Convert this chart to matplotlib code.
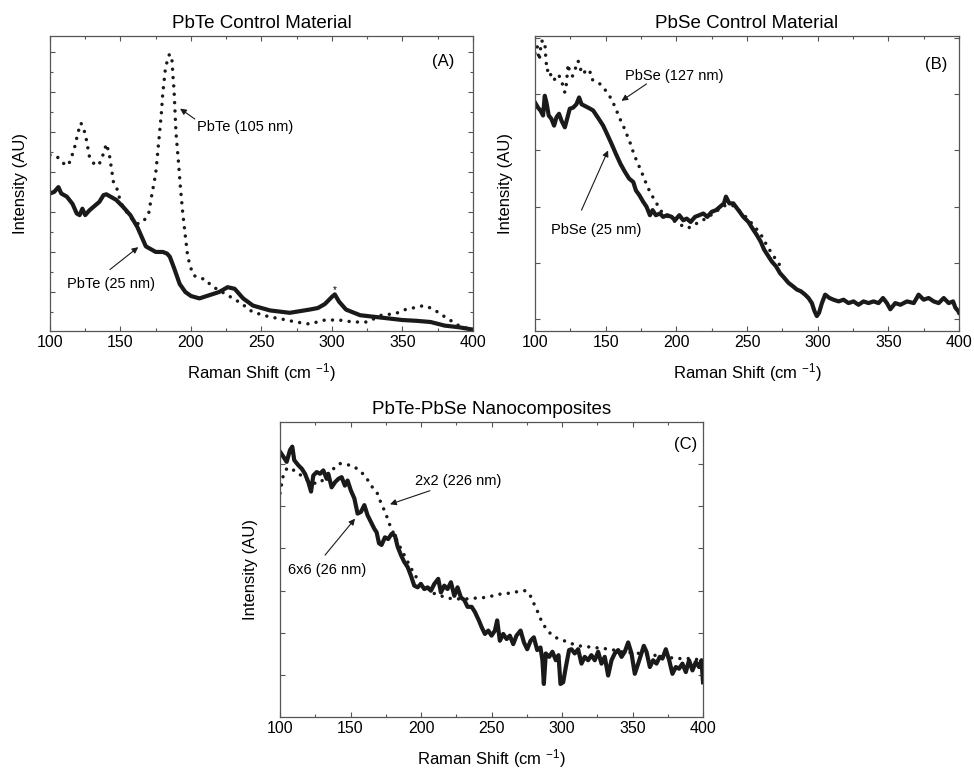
import matplotlib
matplotlib.use("Agg")
import matplotlib.pyplot as plt
from matplotlib.ticker import MultipleLocator

plt.rcParams['font.family'] = ['Liberation Sans', 'DejaVu Sans']
plt.rcParams['mathtext.default'] = 'regular'

# (A) PbTe control material
a_dot_x = [100, 105, 110, 113, 117, 120, 122, 125, 128, 132, 135, 138, 140, 142, 145, 148, 150, 155, 160, 163,
           167, 170, 172, 175, 177, 179, 180, 182, 184.5, 186.3, 187.1, 188, 189.4, 191.1, 192.5, 194.2, 195.8,
           197.7, 200.1, 201.7, 205, 210.6, 214.2, 220, 226, 235.5, 243.7, 255.5, 265, 274.4, 284, 295, 305,
           315, 325, 335, 345, 352, 360, 365, 370, 375, 380, 390, 400]
a_dot_y = [1.71, 1.69, 1.60, 1.58, 1.77, 2.00, 2.11, 1.98, 1.69, 1.58, 1.60, 1.73, 1.85, 1.73, 1.375, 1.27, 1.12,
           0.98, 0.87, 0.85, 0.90, 0.98, 1.19, 1.48, 1.85, 2.23, 2.48, 2.81, 2.96, 2.96, 2.73, 2.52, 1.98, 1.63,
           1.31, 0.98, 0.73, 0.44, 0.29, 0.21, 0.18, 0.155, 0.08, 0.02, -0.04, -0.14, -0.25, -0.31, -0.34,
           -0.375, -0.40, -0.35, -0.35, -0.375, -0.375, -0.29, -0.27, -0.22, -0.19, -0.17, -0.20, -0.25,
           -0.31, -0.42, -0.48]
a_sol_x = [100, 103, 106, 108, 112, 116, 119, 121, 123, 125, 128, 132, 135, 138, 140, 143, 147, 152, 157, 162,
           165, 168, 171, 175, 180, 183, 185, 188, 192, 196, 200, 206, 213, 220, 226, 231, 237, 244, 256, 270,
           284, 290, 295, 300, 302, 305, 310, 320, 330, 340, 350, 360, 370, 380, 390, 400]
a_sol_y = [1.23, 1.25, 1.31, 1.23, 1.19, 1.10, 0.98, 0.96, 1.04, 0.96, 1.02, 1.08, 1.125, 1.21, 1.22, 1.19, 1.15,
           1.06, 0.96, 0.81, 0.69, 0.57, 0.54, 0.50, 0.50, 0.48, 0.44, 0.30, 0.10, 0.0, -0.05, -0.08, -0.04,
           0.0, 0.06, 0.04, -0.08, -0.17, -0.23, -0.26, -0.22, -0.20, -0.15, -0.06, -0.03, -0.12, -0.22, -0.29,
           -0.31, -0.33, -0.35, -0.36, -0.375, -0.42, -0.44, -0.47]

# (B) PbSe control material
b_dot_x = [100, 101.5, 103, 104.5, 106.9, 107.6, 108.5, 110, 111.6, 113.2, 116.3, 118.7, 119.9, 121.1, 122.2,
           123.4, 124.6, 126.5, 128.5, 130.5, 131.7, 134, 136.4, 138.8, 140, 142.3, 145.9, 148.2, 151, 154.1,
           157.2, 159.5, 162.4, 164.8, 167.1, 169.5, 172.3, 174.9, 177.7, 180.8, 183.2, 186, 189.6, 193.1,
           196.7, 200.2, 204.9, 208.4, 212, 216, 220, 225, 230, 235, 240, 245, 250, 255, 260, 265, 270, 275]
b_dot_y = [4.72, 4.85, 4.60, 4.94, 4.94, 4.65, 4.41, 4.45, 4.29, 4.24, 4.35, 4.26, 4.12, 4.03, 4.18, 4.53, 4.38,
           4.32, 4.45, 4.59, 4.47, 4.35, 4.44, 4.41, 4.26, 4.24, 4.18, 4.12, 4.03, 3.91, 3.74, 3.59, 3.44, 3.29,
           3.15, 2.97, 2.79, 2.65, 2.47, 2.29, 2.18, 2.06, 1.91, 1.85, 1.76, 1.73, 1.65, 1.62, 1.68, 1.72, 1.78,
           1.86, 1.95, 2.03, 2.02, 1.92, 1.80, 1.66, 1.50, 1.27, 1.08, 0.90]
b_sol_x = [100, 102.1, 103.8, 105.7, 106.9, 108.1, 109.7, 111.6, 113.5, 115.2, 117, 118.7, 121.1, 122.7, 124.6,
           127, 129.3, 131.2, 132.9, 135.2, 138.3, 141.1, 143.5, 145.9, 148.2, 151, 154.1, 157.2, 160.5, 163.6,
           166.6, 169.5, 171.4, 173.7, 176.5, 178.9, 181.3, 183.2, 185.5, 188.4, 190.7, 193.5, 196.7, 199,
           202.1, 204.9, 207.3, 210.1, 213.2, 216.2, 219.1, 221.9, 225, 228.1, 230.9, 233.7, 235.1, 237.5,
           240.3, 243.9, 247.4, 251, 254.5, 256.9, 259.7, 262.1, 264.4, 267.5, 270.6, 273.4, 276.3, 279.3,
           282.4, 285.3, 288.1, 291.1, 293.5, 295.9, 297.7, 299.4, 301, 303, 305.3, 308.4, 311.2, 314.8, 318.3,
           321.8, 325.4, 328.9, 332.4, 336, 339.5, 343.1, 346.2, 349, 351.4, 354.9, 358.5, 363.2, 368, 371.4,
           375, 378.5, 382.1, 385.6, 389.2, 392.7, 395.8, 397.4, 399.4, 400]
b_sol_y = [3.85, 3.76, 3.71, 3.62, 3.97, 3.85, 3.62, 3.56, 3.44, 3.59, 3.65, 3.53, 3.41, 3.56, 3.74, 3.76, 3.82,
           3.94, 3.82, 3.79, 3.75, 3.71, 3.62, 3.53, 3.44, 3.29, 3.12, 2.94, 2.76, 2.62, 2.50, 2.44, 2.29, 2.21,
           2.09, 2.00, 1.85, 1.94, 1.85, 1.88, 1.82, 1.85, 1.82, 1.76, 1.85, 1.76, 1.79, 1.73, 1.82, 1.85, 1.88,
           1.82, 1.91, 1.94, 2.00, 2.06, 2.18, 2.06, 2.06, 1.94, 1.82, 1.73, 1.59, 1.50, 1.38, 1.24, 1.15, 1.03,
           0.94, 0.82, 0.74, 0.65, 0.59, 0.53, 0.50, 0.44, 0.38, 0.29, 0.15, 0.06, 0.12, 0.29, 0.44, 0.38, 0.35,
           0.32, 0.35, 0.29, 0.32, 0.26, 0.32, 0.29, 0.32, 0.29, 0.38, 0.29, 0.18, 0.29, 0.26, 0.32, 0.29, 0.44,
           0.35, 0.38, 0.32, 0.29, 0.38, 0.29, 0.32, 0.21, 0.15, 0.12]

# (C) PbTe-PbSe nanocomposites
c_dot_x = [100, 102, 105, 110, 115, 120, 126, 130, 135, 139, 142.5, 147, 152, 157, 161, 164.5, 168.5, 171.5,
           175, 177.5, 181, 185, 190, 195, 200, 205, 210, 220, 230, 236, 245, 251, 256, 262, 266, 271, 274,
           277, 280, 282.5, 285, 288, 292, 296.5, 301.5, 306, 312, 323, 334, 345, 350, 365, 381, 391, 400]
c_dot_y = [2.15, 2.34, 2.45, 2.42, 2.36, 2.30, 2.26, 2.30, 2.38, 2.46, 2.50, 2.49, 2.47, 2.41, 2.34, 2.24, 2.17,
           2.04, 1.91, 1.79, 1.66, 1.52, 1.36, 1.20, 1.08, 1.02, 0.96, 0.91, 0.90, 0.91, 0.92, 0.94, 0.96, 0.97,
           0.98, 1.00, 1.00, 0.96, 0.85, 0.76, 0.66, 0.57, 0.49, 0.44, 0.41, 0.38, 0.35, 0.33, 0.31, 0.27, 0.27,
           0.24, 0.20, 0.20, 0.18]
c_sol_x = [100, 102.4, 104.7, 107.1, 108.7, 110.1, 113, 115.4, 117.7, 120.1, 122, 123.6, 126, 128.4, 130.7,
           133.1, 134.2, 136.6, 139, 141.4, 143.7, 146, 147.9, 150.3, 152.7, 155, 157.4, 159.8, 162.1, 164.5,
           166.9, 168.5, 170.2, 172, 174.4, 176.7, 179.1, 181.5, 183.4, 185.8, 188.1, 190.5, 192.8, 195.2,
           197.6, 199.9, 202.3, 204.7, 207, 209.4, 212.2, 214.1, 216.5, 218.8, 221.2, 223.6, 225.9, 228.3,
           230.7, 233, 235.9, 238.2, 241, 243, 245.3, 247.7, 250, 252.4, 254, 255.9, 258.3, 260.7, 263, 265.4,
           267.7, 270.6, 273, 275.3, 277.7, 280, 282.4, 284.7, 286.1, 287.1, 288.5, 290.9, 293.2, 295.6, 297.5,
           298.9, 300.8, 302.7, 305, 306.7, 309, 311.4, 313.8, 316.1, 318.5, 320.8, 323.2, 325.6, 328, 330.3,
           332.7, 335.1, 337.4, 339.8, 342.2, 344.5, 346.9, 349.3, 351.6, 354, 356.3, 358, 359.9, 362.3, 364.6,
           367, 369.3, 371.2, 373.6, 376, 378.3, 380.7, 383, 385.4, 387.8, 390.1, 392.5, 394.9, 397.2, 398.9, 400]
c_sol_y = [2.64, 2.58, 2.52, 2.66, 2.70, 2.54, 2.48, 2.44, 2.38, 2.28, 2.17, 2.36, 2.40, 2.38, 2.42, 2.32, 2.38,
           2.22, 2.28, 2.32, 2.34, 2.24, 2.30, 2.18, 2.09, 1.91, 1.93, 2.01, 1.89, 1.81, 1.73, 1.69, 1.56, 1.54,
           1.63, 1.61, 1.67, 1.65, 1.52, 1.42, 1.34, 1.28, 1.18, 1.06, 1.04, 1.08, 1.02, 1.04, 1.00, 1.08, 1.14,
           0.98, 1.06, 1.02, 1.10, 0.94, 1.04, 0.92, 0.89, 0.81, 0.81, 0.75, 0.65, 0.57, 0.49, 0.53, 0.47, 0.53,
           0.65, 0.41, 0.49, 0.43, 0.47, 0.37, 0.47, 0.53, 0.39, 0.31, 0.41, 0.45, 0.30, 0.33, 0.18, -0.10, 0.26,
           0.22, 0.28, 0.18, 0.24, -0.10, -0.08, 0.10, 0.30, 0.31, 0.26, 0.31, 0.14, 0.22, 0.18, 0.24, 0.18, 0.28,
           0.14, 0.22, 0.00, 0.18, 0.26, 0.30, 0.22, 0.28, 0.39, 0.26, 0.02, 0.14, 0.26, 0.35, 0.28, 0.10, 0.18,
           0.14, 0.22, 0.20, 0.31, 0.18, 0.02, 0.10, 0.08, 0.14, 0.04, 0.18, 0.06, 0.16, 0.10, 0.18, -0.08]

INK = '#1a1a1a'
xlab = 'Raman Shift (cm $^{-1}$)'


def panel(rect, ylim, ystep, yminor, title, tag, tag_xy):
    ax = fig.add_axes(rect)
    ax.set_xlim(100, 400)
    ax.set_ylim(*ylim)
    ax.xaxis.set_major_locator(MultipleLocator(50))
    ax.xaxis.set_minor_locator(MultipleLocator(25))
    ax.yaxis.set_major_locator(MultipleLocator(ystep))
    if yminor:
        ax.yaxis.set_minor_locator(MultipleLocator(yminor))
    else:
        ax.yaxis.set_minor_locator(plt.NullLocator())
    ax.tick_params(which='both', direction='in', top=True, right=True, labelleft=False,
                   labelsize=11.5, pad=3, color='#555555', width=0.8)
    ax.tick_params(which='major', length=3.5)
    ax.tick_params(which='minor', length=2.2)
    for s in ax.spines.values():
        s.set_color('#555555')
        s.set_linewidth(0.9)
    ax.set_title(title, fontsize=13.5, pad=6)
    ax.set_xlabel(xlab, fontsize=12, labelpad=8)
    ax.set_ylabel('Intensity (AU)', fontsize=12, labelpad=16)
    ax.text(tag_xy[0], tag_xy[1], tag, fontsize=12, ha='center', va='center')
    return ax


def spectra(ax, xd, yd, xs, ys):
    ax.plot(xd, yd, color=INK, lw=2.5, linestyle=(0, (0.01, 2.4)), dash_capstyle='round')
    ax.plot(xs, ys, color=INK, lw=3.0, solid_joinstyle='round')


def note(ax, text, txy, tail, head, ha='left'):
    ax.text(txy[0], txy[1], text, fontsize=10.5, ha=ha, va='center')
    ax.annotate('', xy=head, xytext=tail,
                arrowprops=dict(arrowstyle='-|>', color=INK, lw=0.8, mutation_scale=9,
                                shrinkA=0, shrinkB=0))


fig = plt.figure(figsize=(9.74, 7.72), dpi=100)

ax_a = panel([0.0513, 0.5712, 0.4343, 0.3821], (-0.4875, 3.196), 0.5, 0.25,
             'PbTe Control Material', '(A)', (378.8, 2.875))
spectra(ax_a, a_dot_x, a_dot_y, a_sol_x, a_sol_y)
note(ax_a, 'PbTe (105 nm)', (204, 2.06), (202.7, 2.16), (192.3, 2.29))
note(ax_a, 'PbTe (25 nm)', (111.8, 0.10), (142.5, 0.28), (162.6, 0.56))
ax_a.text(302, 0.03, '*', fontsize=7, ha='center', va='center')

ax_b = panel([0.5493, 0.5712, 0.4353, 0.3821], (-0.206, 5.03), 1.0, None,
             'PbSe Control Material', '(B)', (384, 4.53))
spectra(ax_b, b_dot_x, b_dot_y, b_sol_x, b_sol_y)
note(ax_b, 'PbSe (127 nm)', (163.6, 4.32), (178.9, 4.18), (161.2, 3.88))
note(ax_b, 'PbSe (25 nm)', (111.6, 1.59), (132.9, 1.94), (151.7, 3.0))

ax_c = panel([0.2875, 0.0712, 0.4343, 0.3821], (-0.49, 2.99), 0.5, None,
             'PbTe-PbSe Nanocomposites', '(C)', (388, 2.72))
spectra(ax_c, c_dot_x, c_dot_y, c_sol_x, c_sol_y)
note(ax_c, '2x2 (226 nm)', (195.7, 2.30), (206.3, 2.18), (178, 2.02))
note(ax_c, '6x6 (26 nm)', (105.9, 1.24), (131.9, 1.42), (153.2, 1.85))

fig.savefig('out.png', dpi=100)
